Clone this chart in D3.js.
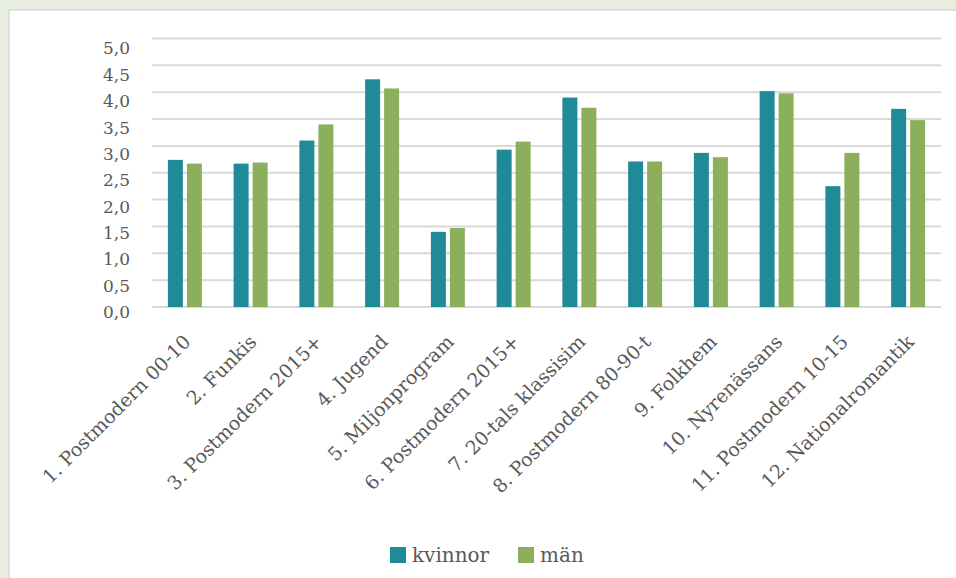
<!DOCTYPE html>
<html><head><meta charset="utf-8">
<script src="https://cdn.jsdelivr.net/npm/d3@7"></script>
<style>
html,body{margin:0;padding:0;background:#E8EEDF;}
svg{display:block;}
svg text{font-family:'DejaVu Serif', serif;}
</style></head>
<body>
<svg id="chart" width="956" height="578"></svg>
<script>
const categories = ["1. Postmodern 00-10","2. Funkis","3. Postmodern 2015+","4. Jugend","5. Miljonprogram","6. Postmodern 2015+","7. 20-tals klassisim","8. Postmodern 80-90-t","9. Folkhem","10. Nyrenässans","11. Postmodern 10-15","12. Nationalromantik"];
const kvinnor = [2.74,2.67,3.10,4.24,1.40,2.93,3.90,2.71,2.87,4.02,2.25,3.69];
const man = [2.67,2.69,3.40,4.07,1.47,3.08,3.71,2.71,2.79,3.98,2.87,3.48];
const seriesNames = ["kvinnor","män"];
const yTicks = [0,0.5,1,1.5,2,2.5,3,3.5,4,4.5,5];

const colors = ["#1F8A98","#8CAF5C"];
const font = "'DejaVu Serif', serif";
const textColor = "#595959";
const svg = d3.select("#chart");

// panel
svg.append("rect").attr("x",0).attr("y",0).attr("width",956).attr("height",578).attr("fill","#E8EEDF");
svg.append("rect").attr("x",9).attr("y",10).attr("width",960).attr("height",580)
  .attr("fill","#fff").attr("stroke","#D9D9D9").attr("stroke-width",1.5);

const pLeft=152, pRight=941, pTop=38.5, pBottom=307;
const x = d3.scaleBand().domain(categories).range([pLeft,pRight]).paddingInner(0).paddingOuter(0);
const y = d3.scaleLinear().domain([0,5]).range([pBottom,pTop]);
// label placement scale (labels sit slightly below their gridlines, as in the original)
const yLab = d3.scaleLinear().domain([0,5]).range([312,48.5]);

// gridlines
svg.append("g").selectAll("line").data(yTicks).join("line")
  .attr("x1",pLeft).attr("x2",pRight)
  .attr("y1",d=>y(d)).attr("y2",d=>y(d))
  .attr("stroke","#D9D9D9").attr("stroke-width",2);

// y axis labels
const yAxis = d3.axisLeft(yLab).tickValues(yTicks).tickSize(0).tickPadding(0)
  .tickFormat(d=>d3.format(".1f")(d).replace(".",","));
const ya = svg.append("g").attr("transform",`translate(130,0)`).call(yAxis);
ya.select(".domain").remove();
ya.attr("font-family",null);
ya.selectAll("text").style("font-family",font).attr("font-size",17).attr("fill",textColor);

// bars
const barW = 15, gap = 4;
const data = [kvinnor, man];
data.forEach((vals,si)=>{
  svg.append("g").selectAll("rect").data(vals).join("rect")
    .attr("x",(d,i)=>x(categories[i])+x.bandwidth()/2 + (si===0 ? -(barW+gap/2) : gap/2))
    .attr("width",barW)
    .attr("y",d=>y(d))
    .attr("height",d=>y(0)-y(d))
    .attr("fill",colors[si]);
});

// x labels
svg.append("g").selectAll("text").data(categories).join("text")
  .attr("transform",d=>`translate(${x(d)+x.bandwidth()/2+7},${343}) rotate(-45)`)
  .attr("text-anchor","end")
  .style("font-family",font).attr("font-size",19).attr("fill",textColor)
  .text(d=>d);

// legend
const lg = svg.append("g");
const legendX = [390,518];
seriesNames.forEach((n,i)=>{
  lg.append("rect").attr("x",legendX[i]).attr("y",547).attr("width",16).attr("height",16).attr("fill",colors[i]);
  lg.append("text").attr("x",legendX[i]+22).attr("y",562).style("font-family",font).attr("font-size",20)
    .attr("fill",textColor).text(n);
});
</script>
</body></html>
